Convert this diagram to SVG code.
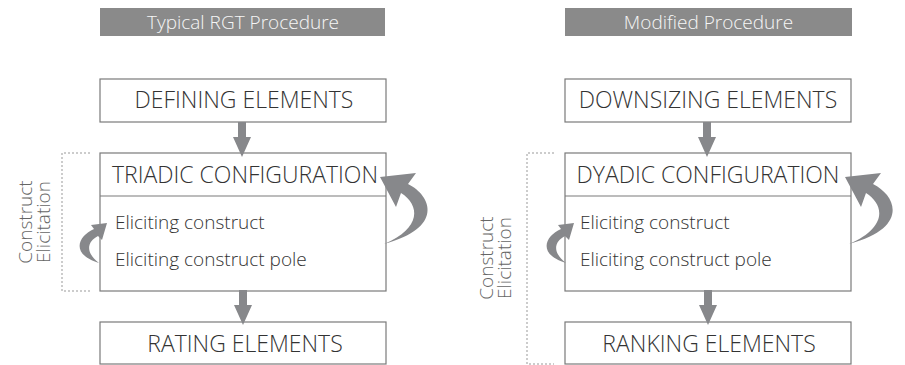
<svg xmlns="http://www.w3.org/2000/svg" width="905" height="365" viewBox="0 0 905 365">
<style>
.hdr{fill:#8a8a8a}
.hdrt{font-family:"Open Sans","Liberation Sans",sans-serif;font-weight:300;font-size:19px;fill:#f6f6f6;text-anchor:middle}
.box{fill:#fff;stroke:#7a7a7a;stroke-width:1.2}
.t{font-family:"Open Sans","Liberation Sans",sans-serif;font-weight:300;font-size:23px;fill:#333;text-anchor:middle}
.s{font-family:"Open Sans","Liberation Sans",sans-serif;font-weight:300;font-size:19px;fill:#333}
.lbl{font-family:"Open Sans","Liberation Sans",sans-serif;font-weight:300;font-size:19px;fill:#666;text-anchor:middle}
.arr{fill:#87888b}
.dash{fill:none;stroke:#999;stroke-width:1;stroke-dasharray:2 2}
</style>
<defs>
<path id="down" d="M -4,0 L 4,0 L 4,15 L 9,15 L 0,35 L -9,15 L -4,15 Z" class="arr"/>
<path id="bigc" d="M 380,177 L 416,173 L 408,184 C 432,196 444,228 384,244 C 422,228 420,205 401,193 L 396,207 Z" class="arr"/>
<path id="smallc" d="M 107,223 L 91,225 L 94,229 C 78,236 70,254 99,263 C 85,252 87,242 98,236 L 102,240 Z" class="arr"/>
</defs>

<g id="left">
<g id="hdr-left"><rect class="hdr" x="100" y="8" width="285" height="28"/><text class="hdrt" x="243" y="29">Typical RGT Procedure</text></g>
<g id="defining"><rect class="box" x="100" y="79" width="286" height="43"/><text class="t" x="244" y="108">DEFINING ELEMENTS</text></g>
<g id="triadic"><rect class="box" x="100" y="153" width="286" height="138"/><line x1="100" y1="196" x2="386" y2="196" stroke="#7a7a7a" stroke-width="1.2"/>
<text class="t" x="245" y="183">TRIADIC CONFIGURATION</text>
<text class="s" x="115" y="229">Eliciting construct</text>
<text class="s" x="115" y="266">Eliciting construct pole</text></g>
<g id="rating"><rect class="box" x="100" y="322" width="286" height="42"/><text class="t" x="245" y="352">RATING ELEMENTS</text></g>
<g id="ce-left"><path class="dash" d="M 90,153 H 62 V 291 H 90"/>
<text class="lbl" transform="translate(32,222) rotate(-90)"><tspan x="0" y="0">Construct</tspan><tspan x="0" y="18">Elicitation</tspan></text></g>
</g>

<g id="right">
<g id="hdr-right"><rect class="hdr" x="565" y="8" width="287" height="28"/><text class="hdrt" x="708.5" y="29">Modified Procedure</text></g>
<g id="downsizing"><rect class="box" x="565" y="79" width="286" height="43"/><text class="t" x="708" y="108">DOWNSIZING ELEMENTS</text></g>
<g id="dyadic"><rect class="box" x="565" y="153" width="286" height="138"/><line x1="565" y1="196" x2="851" y2="196" stroke="#7a7a7a" stroke-width="1.2"/>
<text class="t" x="708" y="183">DYADIC CONFIGURATION</text>
<text class="s" x="580" y="229">Eliciting construct</text>
<text class="s" x="580" y="266">Eliciting construct pole</text></g>
<g id="ranking"><rect class="box" x="565" y="322" width="286" height="42"/><text class="t" x="709" y="352">RANKING ELEMENTS</text></g>
<g id="ce-right"><path class="dash" d="M 554,153 H 527 V 364 H 554"/>
<text class="lbl" transform="translate(493,258) rotate(-90)"><tspan x="0" y="0">Construct</tspan><tspan x="0" y="18">Elicitation</tspan></text></g>
</g>

<g id="connectors">
<use href="#down" x="242" y="122"/>
<use href="#down" x="243" y="290"/>
<use href="#bigc"/>
<use href="#smallc"/>
<use href="#down" x="707" y="122"/>
<use href="#down" x="708" y="290"/>
<use href="#bigc" x="465"/>
<use href="#smallc" x="467"/>
</g>
</svg>
